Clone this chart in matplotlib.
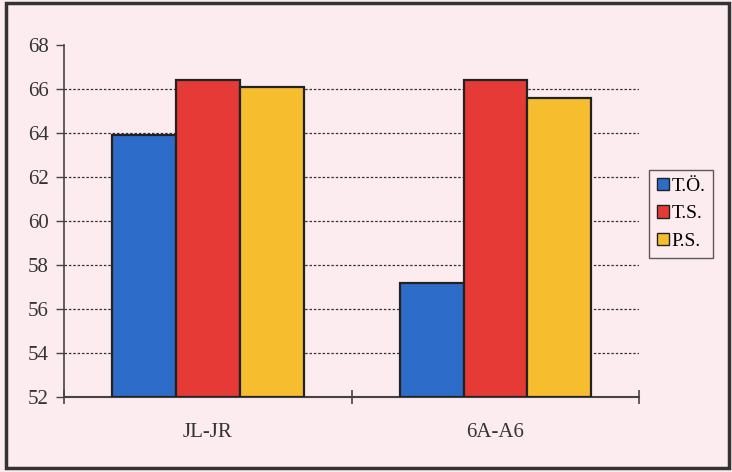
import matplotlib

matplotlib.use("Agg")
import matplotlib.pyplot as plt  # noqa: E402
import numpy as np  # noqa: E402
from matplotlib.patches import Rectangle  # noqa: E402

categories = ["JL-JR", "6A-A6"]
series_names = ["T.Ö.", "T.S.", "P.S."]
to_values = [63.9, 57.2]
ts_values = [66.4, 66.4]
ps_values = [66.1, 65.6]
y_ticks = [52, 54, 56, 58, 60, 62, 64, 66, 68]

colors = ["#2e6cc9", "#e63a36", "#f6bd2f"]
bg = "#fcecef"

plt.rcParams["font.family"] = ["Liberation Serif", "DejaVu Serif"]

fig = plt.figure(figsize=(7.32, 4.72), dpi=100, facecolor=bg)
ax = fig.add_axes([0.0874, 0.159, 0.786, 0.746])
ax.set_facecolor("none")

x = np.arange(len(categories))
width = 0.222
all_values = [to_values, ts_values, ps_values]
for i, (name, vals) in enumerate(zip(series_names, all_values)):
    ax.bar(x + (i - 1) * width, [v - 52 for v in vals], width, bottom=52,
           color=colors[i], edgecolor="#222222", linewidth=1.6,
           label=name, zorder=3)

ax.set_ylim(52, 68)
ax.set_xlim(-0.5, 1.5)
ax.set_yticks(y_ticks)
ax.set_yticklabels([str(t) for t in y_ticks], fontsize=15, color="#333333")
for t in y_ticks[1:-1]:
    ax.axhline(t, color="#333333", linestyle=(0, (2, 1.5)), linewidth=0.9,
               zorder=1)

ax.set_xticks([-0.5, 0.5, 1.5])
ax.set_xticklabels([])
ax.tick_params(axis="x", direction="inout", length=10, width=1.2,
               color="#444444")
ax.tick_params(axis="y", direction="out", length=6, width=1.0,
               color="#444444", pad=5)
for xi, cat in zip(x, categories):
    ax.text(xi, 50.4, cat, ha="center", va="center", fontsize=15,
            color="#333333")

for side in ["top", "right"]:
    ax.spines[side].set_visible(False)
ax.spines["left"].set_color("#444444")
ax.spines["bottom"].set_color("#444444")
ax.spines["left"].set_linewidth(1.2)
ax.spines["bottom"].set_linewidth(1.5)

leg = fig.legend(loc="upper left", bbox_to_anchor=(0.887, 0.64),
                 fontsize=14, frameon=True, fancybox=False,
                 handlelength=0.6, handleheight=0.6, handletextpad=0.15,
                 borderpad=0.4, labelspacing=0.55, borderaxespad=0)
leg.get_frame().set_edgecolor("#333333")
leg.get_frame().set_facecolor("none")
leg.get_frame().set_linewidth(1.0)
for h in leg.legend_handles:
    h.set_linewidth(1.0)

fig.patches.append(Rectangle((0.008, 0.008), 0.988, 0.986,
                             transform=fig.transFigure, fill=False,
                             edgecolor="#333333", linewidth=2.5))

fig.savefig("out.png", dpi=100, facecolor=bg)
